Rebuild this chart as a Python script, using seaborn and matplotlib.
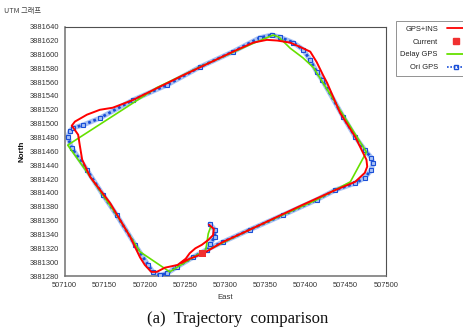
import numpy as np
import pandas as pd
import seaborn as sns
import matplotlib
matplotlib.use("Agg")
import matplotlib.pyplot as plt
from matplotlib.lines import Line2D

# ---- data (UTM East / North, metres) ----
ori_east = [507281, 507287, 507287, 507281, 507277, 507260, 507240, 507228, 507219, 507210,
            507204, 507188, 507165, 507148, 507128, 507109, 507104, 507107, 507111, 507123,
            507144, 507185, 507228, 507269, 507310, 507343, 507358, 507368, 507385, 507397,
            507406, 507414, 507421, 507447, 507462, 507474, 507482, 507484, 507482, 507474,
            507462, 507437, 507414, 507372, 507331, 507297, 507277]
ori_north = [3881355, 3881347, 3881336, 3881326, 3881318, 3881307, 3881293, 3881284, 3881281, 3881286,
             3881296, 3881325, 3881368, 3881397, 3881433, 3881465, 3881481, 3881490, 3881494, 3881498,
             3881508, 3881534, 3881556, 3881582, 3881604, 3881624, 3881628, 3881625, 3881617, 3881607,
             3881592, 3881575, 3881563, 3881510, 3881481, 3881462, 3881451, 3881443, 3881433, 3881422,
             3881414, 3881404, 3881390, 3881368, 3881347, 3881329, 3881318]

ins_east = [507280, 507286, 507285, 507279, 507271, 507263, 507256, 507251, 507241, 507225,
            507215, 507208, 507200, 507194, 507182, 507157, 507132, 507122, 507119, 507117,
            507111, 507109, 507113, 507128, 507144, 507160, 507185, 507248, 507310, 507335,
            507352, 507365, 507381, 507393, 507406, 507414, 507422, 507427, 507443, 507462,
            507470, 507476, 507477, 507474, 507462, 507437, 507397, 507331, 507297, 507272,
            507256, 507246]
ins_north = [3881354, 3881348, 3881339, 3881332, 3881325, 3881320, 3881313, 3881305, 3881296, 3881292,
             3881286, 3881286, 3881296, 3881307, 3881336, 3881385, 3881423, 3881448, 3881469, 3881484,
             3881494, 3881497, 3881503, 3881513, 3881520, 3881523, 3881534, 3881570, 3881604, 3881617,
             3881621, 3881620, 3881617, 3881611, 3881604, 3881589, 3881570, 3881559, 3881516, 3881481,
             3881462, 3881448, 3881438, 3881429, 3881416, 3881404, 3881383, 3881347, 3881329, 3881312,
             3881305, 3881299]

delay_east = [507282, 507279, 507276, 507231, 507194, 507165, 507128, 507104, 507215, 507269,
              507331, 507360, 507367, 507381, 507397, 507410, 507476, 507456, 507414, 507331,
              507281]
delay_north = [3881351, 3881341, 3881318, 3881286, 3881315, 3881368, 3881430, 3881469, 3881552, 3881582,
               3881614, 3881628, 3881625, 3881609, 3881595, 3881581, 3881459, 3881416, 3881390, 3881347,
               3881319]

current_east = [507272]
current_north = [3881312]

x_ticks = [507100, 507150, 507200, 507250, 507300, 507350, 507400, 507450, 507500]
y_ticks = list(range(3881280, 3881641, 20))

series_names = ["GPS+INS", "Current", "Delay GPS", "Ori GPS"]

# ---- style ----
sns.set_style("white")
plt.rcParams["font.family"] = ["Liberation Sans", "DejaVu Sans"]

W, H = 463, 331
fig = plt.figure(figsize=(W / 100, H / 100), dpi=100)
ax = fig.add_axes([64.5 / W, 1 - 276 / H, (385.7 - 64.5) / W, (276 - 26.7) / H])

ori = pd.DataFrame({"East": ori_east, "North": ori_north})
ins = pd.DataFrame({"East": ins_east, "North": ins_north})
dly = pd.DataFrame({"East": delay_east, "North": delay_north})
cur = pd.DataFrame({"East": current_east, "North": current_north})

blue = "#1a4fd8"
sns.lineplot(data=ori, x="East", y="North", sort=False, estimator=None, ax=ax,
             color="#9ab8f2", linewidth=3.6, alpha=0.85, zorder=2)
sns.lineplot(data=ori, x="East", y="North", sort=False, estimator=None, ax=ax,
             color=blue, linewidth=2.0, linestyle=(0, (1.0, 1.0)), zorder=3)
sns.lineplot(data=ori, x="East", y="North", sort=False, estimator=None, ax=ax,
             color=blue, linewidth=0, marker="s", markersize=3.4,
             markerfacecolor="#a8c2f5", markeredgecolor=blue, markeredgewidth=0.8, zorder=3)
sns.lineplot(data=dly, x="East", y="North", sort=False, estimator=None, ax=ax,
             color="#66e000", linewidth=1.2, zorder=4)
sns.lineplot(data=ins, x="East", y="North", sort=False, estimator=None, ax=ax,
             color="#ff0000", linewidth=1.4, zorder=5)
sns.scatterplot(data=cur, x="East", y="North", ax=ax, color="#f03030", marker="s",
                s=24, edgecolor="none", zorder=6)

ax.set_xlim(507100, 507500)
ax.set_ylim(3881280, 3881640)
ax.set_xticks(x_ticks)
ax.set_yticks(y_ticks)
ax.set_xticklabels([str(v) for v in x_ticks])
ax.set_yticklabels([str(v) for v in y_ticks])
ax.tick_params(axis="both", labelsize=5.4, colors="#555555", labelcolor="#333333",
               length=2.5, width=0.6, direction="out", pad=1.5)
ax.set_xlabel("East", fontsize=5.6, color="#333333", labelpad=4)
ax.set_ylabel("North", fontsize=5.8, color="#111111", fontweight="bold", labelpad=3)
for side in ["left", "bottom"]:
    ax.spines[side].set_color("#707070")
    ax.spines[side].set_linewidth(1.1)
for side in ["top", "right"]:
    ax.spines[side].set_color("#505050")
    ax.spines[side].set_linewidth(0.8)

fig.text(4 / W, 1 - 11 / H, "UTM 그래프", fontsize=5.2, color="#444444",
         family=["Noto Sans CJK KR", "DejaVu Sans"], va="center", ha="left")

handles = [
    Line2D([], [], color="#ff0000", linewidth=1.3),
    Line2D([], [], color="#f03030", linewidth=0, marker="s", markersize=4),
    Line2D([], [], color="#66e000", linewidth=1.3),
    Line2D([], [], color=blue, linewidth=1.2, linestyle=(0, (1, 1)), marker="s",
           markersize=2.5, markerfacecolor="none"),
]
leg = ax.legend(handles, series_names, loc="upper left", bbox_to_anchor=(396 / W, 1 - 21 / H),
                bbox_transform=fig.transFigure, fontsize=5.4, markerfirst=False,
                frameon=True, fancybox=False, handlelength=2.4, handletextpad=1.2,
                borderpad=0.6, labelspacing=0.75, borderaxespad=0)
leg.get_frame().set_edgecolor("#777777")
leg.get_frame().set_linewidth(0.7)
for t in leg.get_texts():
    t.set_color("#222222")

fig.text(0.513, 1 - 319 / H, "(a)  Trajectory  comparison", fontsize=12,
         family=["Liberation Serif", "DejaVu Serif"], ha="center", va="center", color="#111111")

fig.savefig("out.png", dpi=100)
